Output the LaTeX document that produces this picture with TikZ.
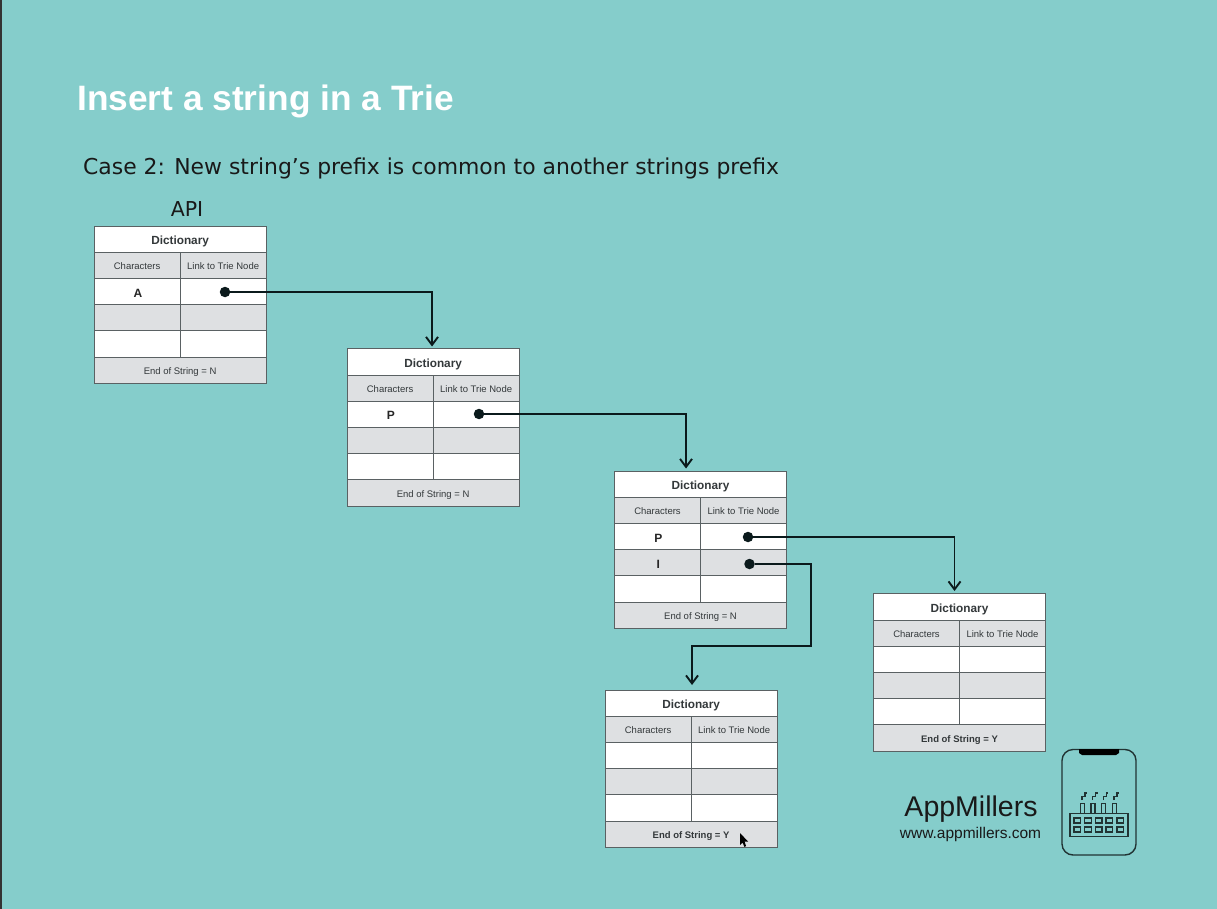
\documentclass[tikz,border=0pt]{standalone}
\usepackage{fontspec}
\setmainfont{Liberation Sans}
\newfontfamily\casefont{DejaVu Sans}
\usetikzlibrary{positioning,arrows.meta}
\definecolor{slidebg}{HTML}{85CDCB}
\definecolor{cellgray}{HTML}{DEE0E2}
\definecolor{cellline}{HTML}{5A6163}
\definecolor{celltext}{HTML}{33383A}
\definecolor{linkline}{HTML}{0B1A1C}
\tikzset{
 cell/.style={draw=cellline,line width=0.9pt,fill=white,inner sep=0pt,outer sep=0pt,text=celltext,text height=8pt,text depth=0pt,font=\fontsize{9.5}{10}\selectfont},
 wide/.style={cell,minimum width=172pt,minimum height=26.2pt},
 half/.style={cell,minimum width=86pt,minimum height=26.2pt},
 shade/.style={fill=cellgray},
 letter/.style={text height=11pt,text=black!85,font=\fontsize{12}{12}\selectfont\bfseries},
 linkdot/.style={circle,fill=linkline,inner sep=0pt,minimum size=10.5pt},
 link/.style={draw=linkline,line width=1.9pt,-{Straight Barb[length=8pt,width=12pt,line width=1.9pt]}},
 logoline/.style={draw=black!75!slidebg,line width=1.4pt}
}
% #1 name, #2 left, #3 top, #4 #5 letters, #6 last row text
\newcommand{\dicttable}[6]{
 \node[wide,anchor=north west,text height=10pt,font=\fontsize{11.8}{12}\selectfont\bfseries] (#1title) at (#2,#3) {Dictionary};
 \node[half,shade,below=0pt of #1title.south west,anchor=north west] (#1chars) {Characters};
 \node[half,shade,right=0pt of #1chars] (#1links) {Link to Trie Node};
 \node[half,letter,below=0pt of #1chars] (#1a) {\hspace{1.5pt}#4};
 \node[half,right=0pt of #1a] (#1b) {};
 \node[half,shade,letter,below=0pt of #1a] (#1c) {\hspace{1.5pt}#5};
 \node[half,shade,right=0pt of #1c] (#1d) {};
 \node[half,below=0pt of #1c] (#1e) {};
 \node[half,right=0pt of #1e] (#1f) {};
 \node[wide,shade,below=0pt of #1e.south west,anchor=north west] (#1end) {#6};
}
\begin{document}
\begin{tikzpicture}[x=1pt,y=-1pt]
 \useasboundingbox (0,0) rectangle (1217,909);
 \fill[slidebg] (0,0) rectangle (1217,909);
 \fill[black!80] (0,0) rectangle (1.5,909);
 \node[anchor=west,inner sep=0pt,text=white,font=\fontsize{35.3}{36}\selectfont\bfseries] (title) at (77,101) {Insert a string in a Trie};
 \node[anchor=west,inner sep=0pt,text=black!90,font=\casefont\fontsize{21.9}{24}\selectfont] (case) at (83,168) {Case 2: New string’s prefix is common to another strings prefix};
 \node[inner sep=0pt,text=black!90,font=\casefont\fontsize{20.5}{24}\selectfont] (api) at (187,209) {API};
 \dicttable{one}{94.1}{226}{A}{}{End of String = N}
 \dicttable{two}{347.1}{348.9}{P}{}{End of String = N}
 \dicttable{three}{614.5}{471}{P}{I}{End of String = N}
 \dicttable{four}{873.5}{593.9}{}{}{\textbf{End of String = Y}}
 \dicttable{five}{605.1}{690}{}{}{\textbf{End of String = Y}}
 \node[linkdot] (onedot) at (225,292) {};
 \node[linkdot] (twodot) at (479,414) {};
 \node[linkdot] (threedot) at (748,537) {};
 \node[linkdot] (idot) at (749.5,564) {};
 \coordinate (twoin) at (432,346.5);
 \coordinate (threein) at (686,468.5);
 \coordinate (fourin) at (954.5,591);
 \coordinate (fivein) at (692,685);
 \coordinate (ilow) at (811,646);
 \draw[link] (onedot) -| (twoin);
 \draw[link] (twodot) -| (threein);
 \draw[link] (threedot) -| (fourin);
 \draw[link] (idot) -| (ilow) -| (fivein);
 \fill[black] (740,833) -- (740,845) -- (742.5,842.5) -- (744.5,847) -- (746,846) -- (744.5,841.5) -- (748,841.5) -- cycle;
 \node[inner sep=0pt,text=black!90,font=\fontsize{28.5}{32}\selectfont] (brand) at (971,809) {AppMillers};
 \node[inner sep=0pt,text=black!90,font=\fontsize{15.5}{18}\selectfont] (site) at (970.5,834) {www.appmillers.com};
 \draw[logoline,rounded corners=11pt] (1062,749.5) rectangle (1136,855);
 \fill[black] (1079,749) -- (1119,749) -- (1119,753) -- (1116,755) -- (1082,755) -- (1079,753) -- cycle;
 \draw[logoline] (1070,813.5) rectangle (1128,836.5);
 \foreach \i in {0,...,4} {
  \draw[logoline] (1074+10.7*\i,818) rectangle ++(6.5,5);
  \draw[logoline] (1074+10.7*\i,827) rectangle ++(6.5,5);
 }
 \foreach \i in {0,...,3} {
  \draw[logoline] (1080.5+10.6*\i,813.5) -- ++(0,-10) -- ++(4,0) -- ++(0,10);
  \draw[logoline] (1082+10.6*\i,800) -- ++(0,-3.5) -- ++(3,0) -- ++(0,-3.5) -- ++(2,0);
 }
\end{tikzpicture}
\end{document}
